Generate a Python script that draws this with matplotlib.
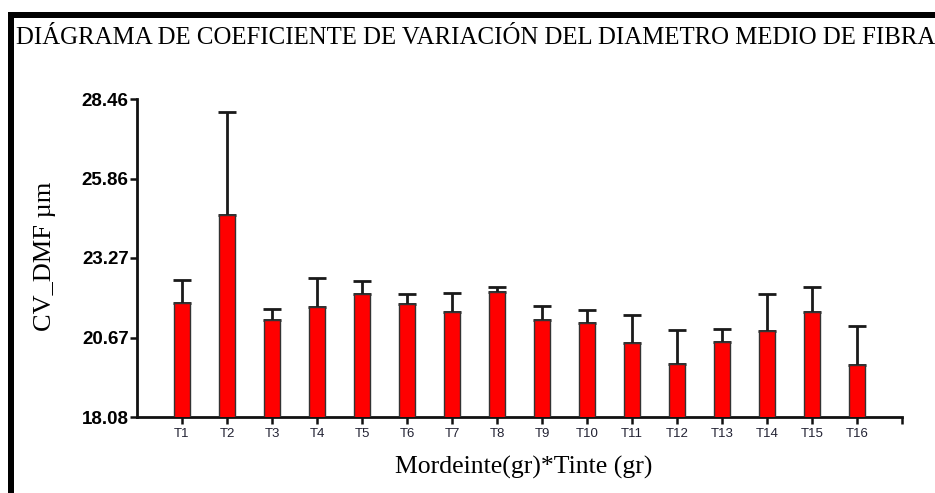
import matplotlib
matplotlib.use("Agg")
import matplotlib.pyplot as plt
from matplotlib.patches import Rectangle

categories = ["T1", "T2", "T3", "T4", "T5", "T6", "T7", "T8",
              "T9", "T10", "T11", "T12", "T13", "T14", "T15", "T16"]
means = [21.81, 24.66, 21.24, 21.68, 22.10, 21.78, 21.52, 22.17,
         21.24, 21.16, 20.49, 19.82, 20.53, 20.90, 21.52, 19.78]
errors = [0.74, 3.37, 0.36, 0.94, 0.42, 0.31, 0.60, 0.16,
          0.47, 0.42, 0.93, 1.10, 0.42, 1.19, 0.81, 1.26]
ytick_labels = ["18.08", "20.67", "23.27", "25.86", "28.46"]
yticks = [float(t) for t in ytick_labels]

title = "DIÁGRAMA DE COEFICIENTE DE VARIACIÓN DEL DIAMETRO MEDIO DE FIBRA"
xlabel = "Mordeinte(gr)*Tinte (gr)"
ylabel = "CV_DMF µm"

W, H = 935, 493
fig = plt.figure(figsize=(W / 100, H / 100), dpi=100)
ax = fig.add_axes([137 / W, 1 - 417 / H, 765 / W, 318 / H])

x = list(range(1, len(categories) + 1))
ax.bar(x, means, width=0.36, color="#ff0000", edgecolor="#333333",
       linewidth=1.0, zorder=3)
ax.errorbar(x, means, yerr=[[0] * len(errors), errors], fmt="none",
            ecolor="#1a1a1a", elinewidth=2, capsize=6.5, capthick=2, zorder=2)

ax.set_xlim(0, 17)
ax.set_ylim(yticks[0], yticks[-1])
ax.set_yticks(yticks)
ax.set_yticklabels(ytick_labels, fontfamily="Liberation Sans",
                   fontweight="bold", fontsize=13.5)
ax.set_xticks(x + [17])
ax.set_xticklabels(categories + [""], fontfamily="Liberation Sans",
                   fontsize=9.5, color="#222233")

for s in ["top", "right"]:
    ax.spines[s].set_visible(False)
for s in ["left", "bottom"]:
    ax.spines[s].set_linewidth(2)
    ax.spines[s].set_color("#111111")
ax.tick_params(axis="both", direction="out", length=5, width=1.8,
               color="#111111")
ax.tick_params(axis="y", pad=1)
ax.tick_params(axis="x", pad=3)

ax.set_ylabel(ylabel, fontfamily="Liberation Serif", fontsize=19)
ax.yaxis.set_label_coords(-(137 - 45) / 765, (417 - 256) / 318)
ax.set_xlabel(xlabel, fontfamily="Liberation Serif", fontsize=18.5)
ax.xaxis.set_label_coords((524 - 137) / 765, -(467 - 417) / 318)
ax.xaxis.label.set_va("center")
ax.yaxis.label.set_va("center")

fig.text(16 / W, 1 - 38 / H, title, fontfamily="Liberation Serif",
         fontsize=17.9, ha="left", va="center")

# black frame lines (top and left)
fig.add_artist(Rectangle((8 / W, 1 - 17.5 / H), (W - 8) / W, 5.5 / H,
                         transform=fig.transFigure, color="black", lw=0))
fig.add_artist(Rectangle((8 / W, 0), 6 / W, 1 - 12 / H,
                         transform=fig.transFigure, color="black", lw=0))

fig.savefig("out.png", dpi=100, facecolor="white")
